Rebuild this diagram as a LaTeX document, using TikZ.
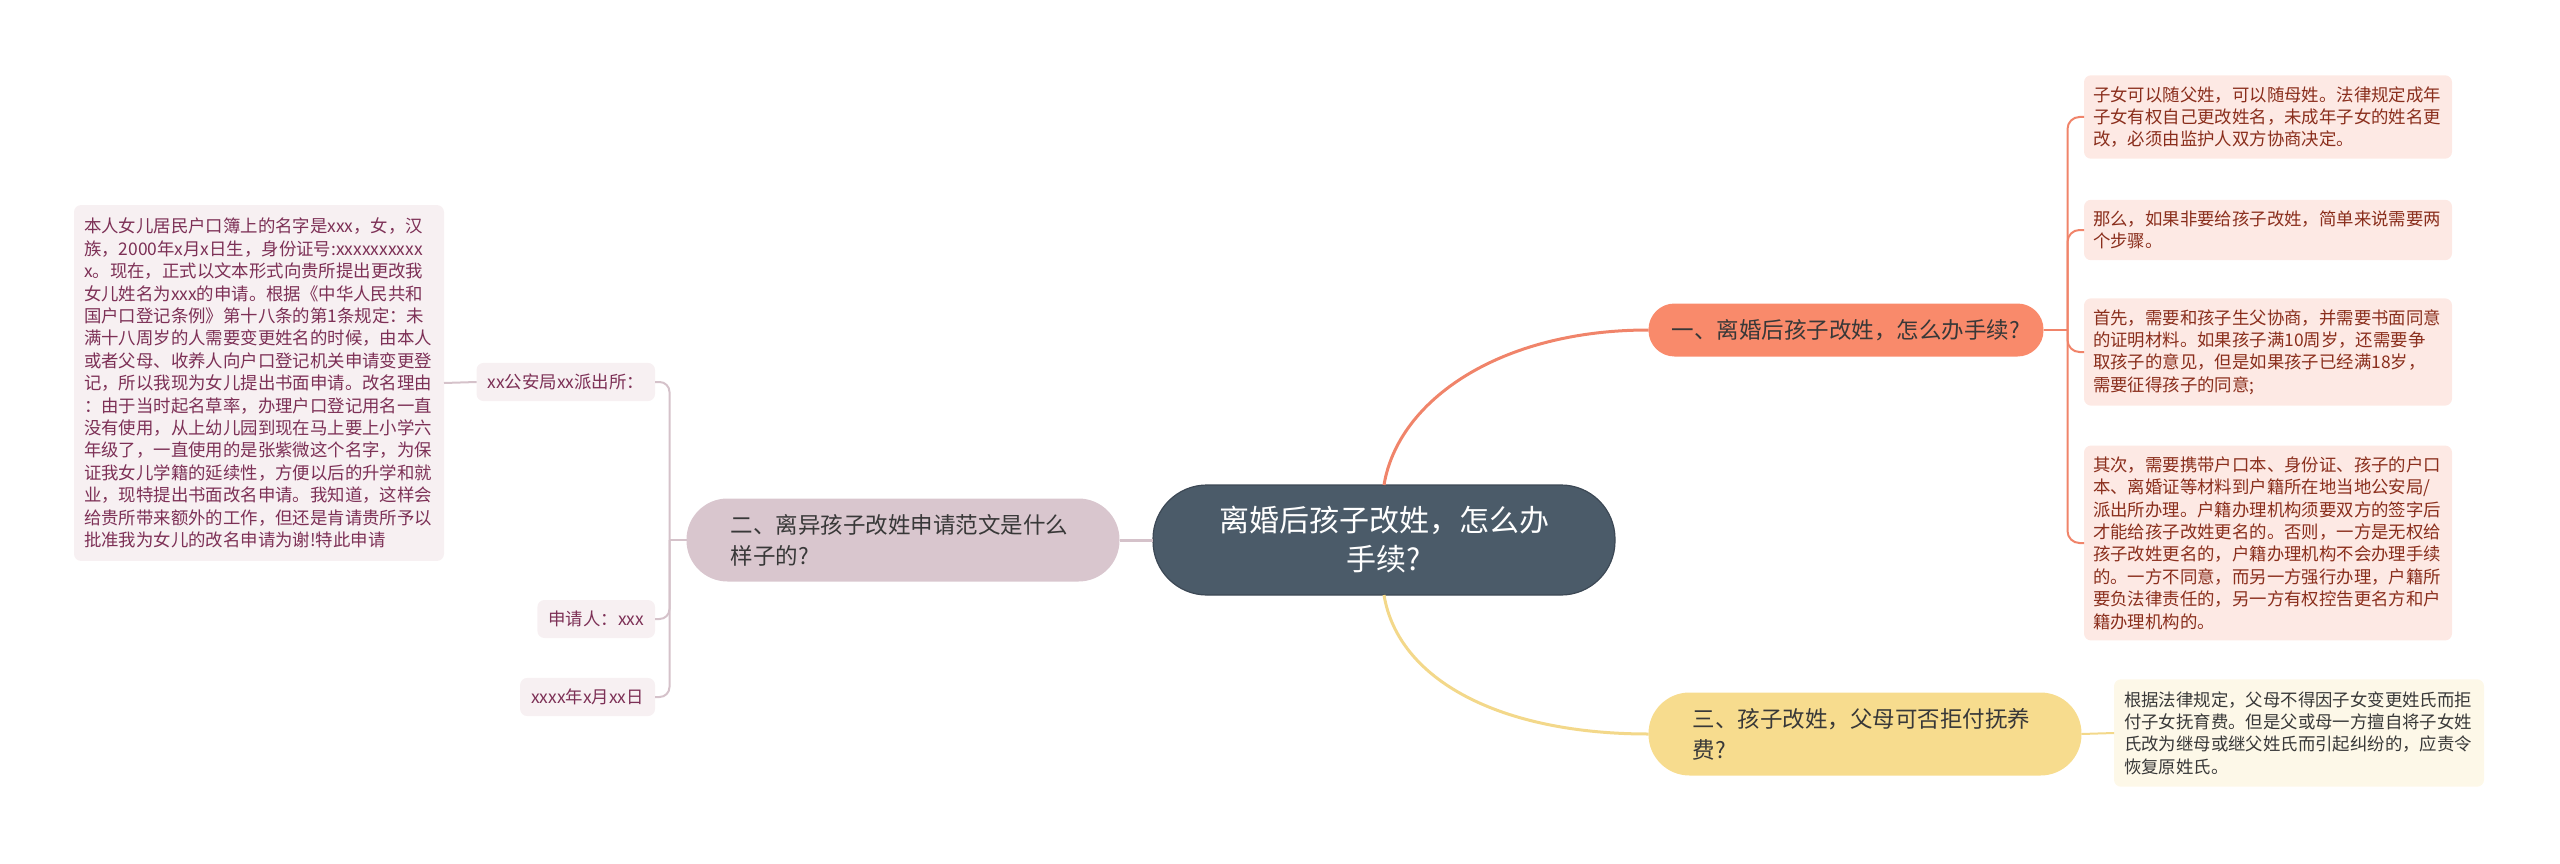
\documentclass[tikz,border=0pt]{standalone}
\usepackage{fontspec}
\setmainfont{Noto Sans CJK SC}

\definecolor{rootfill}{HTML}{4B5B69}
\definecolor{rootline}{HTML}{3C4855}
\definecolor{orangefill}{HTML}{F98A6B}
\definecolor{orangeline}{HTML}{F0846A}
\definecolor{mauvefill}{HTML}{D9C6CE}
\definecolor{mauveline}{HTML}{D5C2CA}
\definecolor{yellowfill}{HTML}{F7DC8E}
\definecolor{yellowline}{HTML}{F3D88A}
\definecolor{pinkfill}{HTML}{FDE9E4}
\definecolor{pinktext}{HTML}{8A2E1C}
\definecolor{plumfill}{HTML}{F7F0F2}
\definecolor{plumtext}{HTML}{7D3056}
\definecolor{creamfill}{HTML}{FDF8E8}
\definecolor{darktext}{HTML}{383838}

\begin{document}
\begin{tikzpicture}
  [x=1pt, y=-1pt,
   every node/.style={inner sep=0pt, outer sep=0pt},
   root/.style={fill=rootfill, draw=rootline, line width=1.2pt, rounded corners=54pt,
     text=white, align=center, font=\fontsize{30}{39}\selectfont,
     minimum width=462pt, minimum height=110pt},
   topic/.style={align=left, text=darktext, font=\fontsize{22.5}{31}\selectfont,
     text width=345pt, inner xsep=44pt, minimum height=83pt, rounded corners=41pt},
   leafR/.style={fill=pinkfill, text=pinktext, rounded corners=7pt, align=left,
     text width=350pt, inner xsep=9pt, inner ysep=11pt, font=\fontsize{17.4}{22.4}\selectfont},
   leafL/.style={fill=plumfill, text=plumtext, rounded corners=7pt, align=left,
     inner xsep=11pt, inner ysep=11pt, font=\fontsize{17.4}{22.4}\selectfont},
   leafY/.style={fill=creamfill, text=darktext, rounded corners=7pt, align=left,
     text width=350pt, inner xsep=10pt, inner ysep=12pt, font=\fontsize{17.4}{22.4}\selectfont},
   orangeln/.style={draw=orangeline, line width=2pt},
   mauveln/.style={draw=mauveline, line width=2pt},
   yellowln/.style={draw=yellowline, line width=2pt}]
  \useasboundingbox (0,0) rectangle (2560,864);

  \node [root] (r) at (1384,540) {离婚后孩子改姓，怎么办\\手续?};

  \node [fill=orangefill, text=darktext, font=\fontsize{22.5}{31}\selectfont,
    minimum width=395pt, minimum height=53pt, rounded corners=26pt] (t1) at (1846,330)
    {一、离婚后孩子改姓，怎么办手续?};
  \node [topic, fill=mauvefill] (t2) at (903,540) {二、离异孩子改姓申请范文是什么\\样子的?};
  \node [topic, fill=yellowfill] (t3) at (1865,734) {三、孩子改姓，父母可否拒付抚养\\费?};

  \node [leafR, anchor=west] (a) at (2084,117)
    {子女可以随父姓，可以随母姓。法律规定成年\\子女有权自己更改姓名，未成年子女的姓名更\\改，必须由监护人双方协商决定。};
  \node [leafR, anchor=west] (b) at (2084,230)
    {那么，如果非要给孩子改姓，简单来说需要两\\个步骤。};
  \node [leafR, anchor=west] (c) at (2084,352)
    {首先，需要和孩子生父协商，并需要书面同意\\的证明材料。如果孩子满10周岁，还需要争\\取孩子的意见，但是如果孩子已经满18岁，\\需要征得孩子的同意;};
  \node [leafR, anchor=west] (d) at (2084,543)
    {其次，需要携带户口本、身份证、孩子的户口\\本、离婚证等材料到户籍所在地当地公安局/\\派出所办理。户籍办理机构须要双方的签字后\\才能给孩子改姓更名的。否则，一方是无权给\\孩子改姓更名的，户籍办理机构不会办理手续\\的。一方不同意，而另一方强行办理，户籍所\\要负法律责任的，另一方有权控告更名方和户\\籍办理机构的。};

  \node [leafY, anchor=west] (y) at (2114,733)
    {根据法律规定，父母不得因子女变更姓氏而拒\\付子女抚育费。但是父或母一方擅自将子女姓\\氏改为继母或继父姓氏而引起纠纷的，应责令\\恢复原姓氏。};

  \node [leafL, anchor=east] (p) at (655,382) {xx公安局xx派出所：};
  \node [leafL, anchor=east] (s) at (655,619) {申请人：xxx};
  \node [leafL, anchor=east] (dt) at (655,697) {xxxx年x月xx日};
  \node [leafL, text width=350pt, inner xsep=10pt, inner ysep=13pt, anchor=east] (big) at (444,383)
    {本人女儿居民户口簿上的名字是xxx，女，汉\\族，2000年x月x日生，身份证号:xxxxxxxxxx\\x。现在，正式以文本形式向贵所提出更改我\\女儿姓名为xxx的申请。根据《中华人民共和\\国户口登记条例》第十八条的第1条规定：未\\满十八周岁的人需要变更姓名的时候，由本人\\或者父母、收养人向户口登记机关申请变更登\\记，所以我现为女儿提出书面申请。改名理由\\：由于当时起名草率，办理户口登记用名一直\\没有使用，从上幼儿园到现在马上要上小学六\\年级了，一直使用的是张紫微这个名字，为保\\证我女儿学籍的延续性，方便以后的升学和就\\业，现特提出书面改名申请。我知道，这样会\\给贵所带来额外的工作，但还是肯请贵所予以\\批准我为女儿的改名申请为谢!特此申请};

  \draw [orangeln, line width=3pt] (r.north) .. controls (1398,400) and (1500,330) .. (t1.west);
  \draw [yellowln, line width=3pt] (r.south) .. controls (1398,680) and (1500,734) .. (t3.west);
  \draw [mauveln, line width=3pt] (r.west) -- (t2.east);

  \path (t1.east) ++(24,0) coordinate (s1);
  \draw [orangeln] (t1.east) -- (s1);
  \foreach \n in {a,b,c,d}
    \draw [orangeln, rounded corners=12pt] (s1) |- (\n.west);

  \path (t2.west) ++(-17,0) coordinate (s2);
  \draw [mauveln] (t2.west) -- (s2);
  \foreach \n in {p,s,dt}
    \draw [mauveln, rounded corners=10pt] (s2) |- (\n.east);
  \draw [mauveln] (big.east) -- (p.west);

  \draw [yellowln] (t3.east) -- (y.west);
\end{tikzpicture}
\end{document}
